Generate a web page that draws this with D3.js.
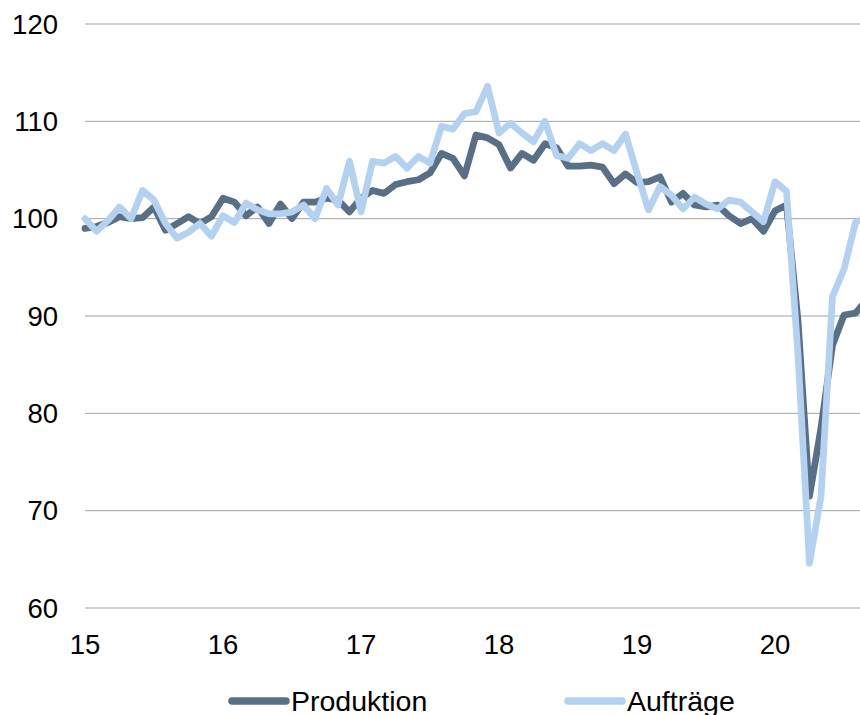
<!DOCTYPE html>
<html>
<head>
<meta charset="utf-8">
<script src="https://cdn.jsdelivr.net/npm/d3@7"></script>
<style>
  body { margin: 0; background: #fff; }
  #chart { width: 860px; height: 715px; }
</style>
</head>
<body>
<div id="chart"></div>
<script>
// monthly values, Jan 2015 (index 0) to Sep 2020
const produktion = [
  99.0, 99.2, 99.6, 100.2, 100.0, 100.1, 101.2, 98.8, 99.5, 100.2, 99.5, 100.2,
  102.1, 101.7, 100.3, 101.2, 99.5, 101.5, 100.0, 101.7, 101.7, 102.1, 101.9, 100.7,
  102.1, 102.9, 102.6, 103.5, 103.8, 104.0, 104.7, 106.7, 106.2, 104.4, 108.6, 108.3,
  107.6, 105.2, 106.7, 106.0, 107.7, 107.3, 105.4, 105.4, 105.5, 105.3, 103.6, 104.6,
  103.7, 103.8, 104.3, 101.7, 102.6, 101.4, 101.2, 101.4, 100.3, 99.5, 100.0, 98.7,
  100.8, 101.4, 89.5, 71.5, 78.5, 87.0, 90.1, 90.3, 91.7
];
const auftraege = [
  100.0, 98.7, 99.8, 101.2, 100.0, 102.9, 101.9, 99.5, 98.0, 98.6, 99.5, 98.2,
  100.3, 99.6, 101.6, 100.9, 100.5, 100.5, 100.7, 101.4, 100.0, 103.1, 101.4, 105.9,
  100.7, 105.9, 105.7, 106.4, 105.2, 106.4, 105.7, 109.5, 109.2, 110.8, 111.0, 113.6,
  108.8, 109.8, 108.8, 107.9, 110.0, 106.5, 106.2, 107.7, 107.0, 107.7, 107.0, 108.7,
  104.7, 100.9, 103.3, 102.4, 101.0, 102.2, 101.5, 101.0, 101.9, 101.7, 100.7, 99.7,
  103.8, 102.8, 86.0, 64.6, 71.5, 92.0, 94.8, 99.6, 100.2
];
const yearTicks = [0, 12, 24, 36, 48, 60];
const yearLabels = ["15", "16", "17", "18", "19", "20"];
const yTicks = [60, 70, 80, 90, 100, 110, 120];
const seriesNames = ["Produktion", "Aufträge"];
const seriesColors = ["#596f85", "#b4d1f0"];

const fullWidth = 860;
const fullHeight = 715;
const margin = { top: 24, left: 85, bottom: 107 };

const svg = d3.select("#chart")
  .append("svg")
  .attr("width", fullWidth)
  .attr("height", fullHeight)
  .style("font-family", "'Liberation Sans', Arial, sans-serif");

const x = d3.scaleLinear()
  .domain([0, 60])
  .range([margin.left, 775]);

const y = d3.scaleLinear()
  .domain([60, 120])
  .range([fullHeight - margin.bottom, margin.top]);

// === Gridlines ===
svg.append("g")
  .selectAll("line")
  .data(yTicks)
  .enter()
  .append("line")
  .attr("x1", margin.left)
  .attr("x2", fullWidth)
  .attr("y1", (d) => y(d))
  .attr("y2", (d) => y(d))
  .attr("stroke", "#a3a3a3")
  .attr("stroke-width", 1);

// === Y labels ===
svg.append("g")
  .selectAll("text")
  .data(yTicks)
  .enter()
  .append("text")
  .attr("x", 58)
  .attr("y", (d) => y(d))
  .attr("text-anchor", "end")
  .attr("dominant-baseline", "central")
  .style("font-size", "27.5px")
  .style("fill", "#000")
  .text((d) => d);

// === X labels ===
svg.append("g")
  .selectAll("text")
  .data(yearTicks)
  .enter()
  .append("text")
  .attr("x", (d) => x(d))
  .attr("y", 644)
  .attr("text-anchor", "middle")
  .attr("dominant-baseline", "central")
  .style("font-size", "27.5px")
  .style("fill", "#000")
  .text((d, i) => yearLabels[i]);

// === Lines ===
const line = d3.line()
  .x((d, i) => x(i))
  .y((d) => y(d));

[produktion, auftraege].forEach((values, k) => {
  svg.append("path")
    .datum(values)
    .attr("d", line)
    .attr("fill", "none")
    .attr("stroke", seriesColors[k])
    .attr("stroke-width", 6.75)
    .attr("stroke-linejoin", "round")
    .attr("stroke-linecap", "round");
});

// === Legend ===
const legendX = [230, 566];
seriesNames.forEach((name, k) => {
  const g = svg.append("g")
    .attr("transform", `translate(${legendX[k]}, 701)`);
  g.append("line")
    .attr("x1", 2)
    .attr("x2", 56)
    .attr("y1", 0)
    .attr("y2", 0)
    .attr("stroke", seriesColors[k])
    .attr("stroke-width", 7.5)
    .attr("stroke-linecap", "round");
  g.append("text")
    .attr("x", 61)
    .attr("y", 0)
    .attr("dominant-baseline", "central")
    .style("font-size", "28.5px")
    .style("fill", "#000")
    .text(name);
});
</script>
</body>
</html>
